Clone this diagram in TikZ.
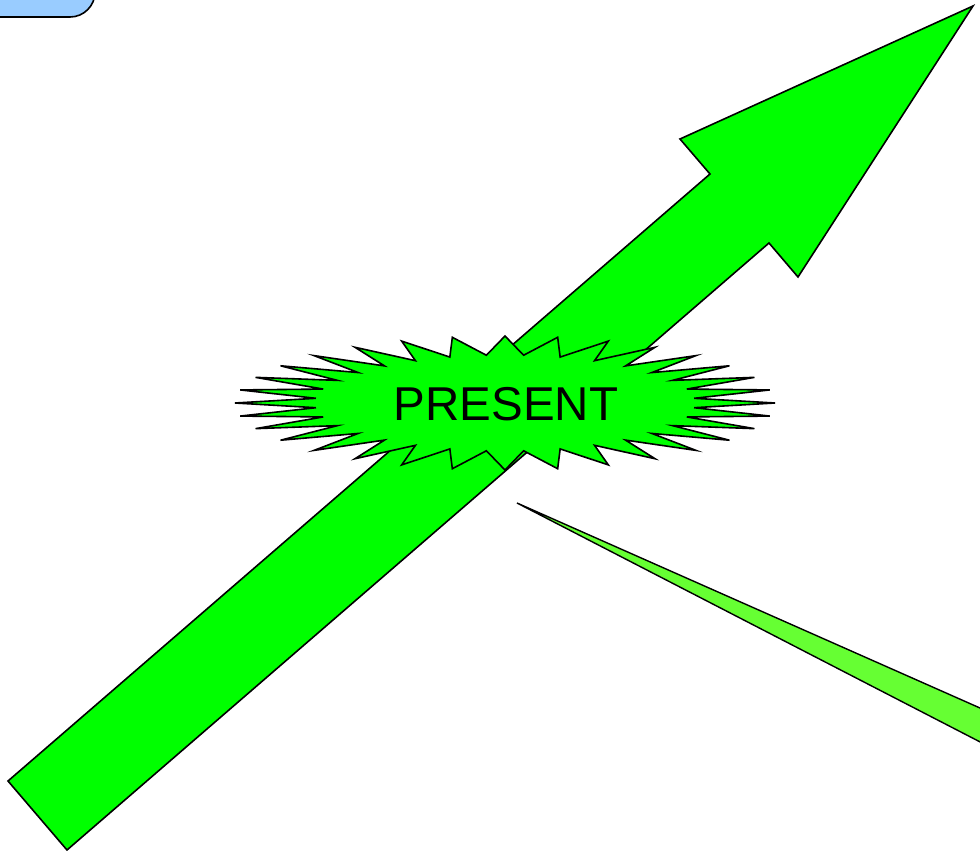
\documentclass[tikz,border=0pt]{standalone}
\usepackage{fontspec}
\setmainfont{Liberation Sans}
\definecolor{arrowgreen}{HTML}{00FF00}
\definecolor{wedgegreen}{HTML}{66FF33}
\definecolor{boxblue}{HTML}{99CCFF}
\tikzset{
  outline/.style={draw=black, line width=1.6pt, line join=miter},
}
\begin{document}
\begin{tikzpicture}[x=1pt,y=-1pt]
\useasboundingbox (0,0) rectangle (980,851);
\clip (0,0) rectangle (980,851);
% top-left rounded box (mostly off-picture)
\draw[outline, fill=boxblue, rounded corners=25pt] (-60,-60) rectangle (95,17);
% big arrow
\draw[outline, fill=arrowgreen]
  (8,781) -- (710,174) -- (680,139) -- (973,6) -- (798,277) -- (769,243) -- (67,850) -- cycle;
% thin wedge
\draw[outline, fill=wedgegreen, line width=1.4pt]
  (517,503) -- (1050,739) -- (1050,778) -- cycle;
% starburst
\draw[outline, fill=arrowgreen]
  (775,403) \foreach \k in {1,...,63}{
    -- ({505+(190+80*(1-mod(\k,2)))*cos(\k*5.625)}, {403-(48+19*(1-mod(\k,2)))*sin(\k*5.625)})
  } -- cycle;
\node[font=\fontsize{47.5}{52}\selectfont, inner sep=0pt] (present) at (506,404) {PRESENT};
\end{tikzpicture}
\end{document}
